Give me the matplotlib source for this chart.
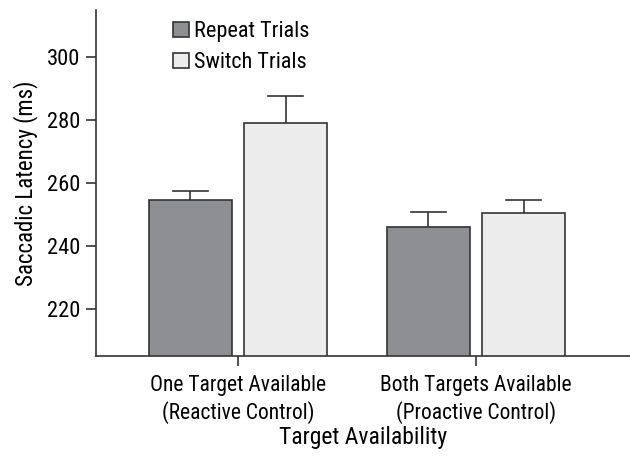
import matplotlib
matplotlib.use("Agg")
import matplotlib.pyplot as plt
import numpy as np
from matplotlib.patches import Patch

plt.rcParams['font.family'] = ['Roboto Condensed', 'Archivo Narrow', 'PT Sans Narrow', 'DejaVu Sans']

categories = ["One Target Available\n(Reactive Control)", "Both Targets Available\n(Proactive Control)"]
series = ["Repeat Trials", "Switch Trials"]
repeat_vals = [254.6, 246.0]
repeat_err = [2.8, 4.8]
switch_vals = [278.9, 250.5]
switch_err = [8.6, 3.9]
yticks = [220, 240, 260, 280, 300]

fig = plt.figure(figsize=(6.3, 4.59), dpi=100)
W, H = 630, 459
ax = fig.add_axes([96 / W, 1 - 355.7 / H, (630 - 96) / W, (355.7 - 10) / H])

x = np.arange(len(categories))
width = 0.349
edge = '#333333'
ax.bar(x - 0.2, repeat_vals, width, bottom=0, color='#8e8f92', edgecolor=edge, linewidth=1.2,
       yerr=[np.zeros(2), repeat_err], capsize=0, error_kw=dict(ecolor=edge, elinewidth=1.2), zorder=2)
ax.bar(x + 0.2, switch_vals, width, bottom=0, color='#ececec', edgecolor=edge, linewidth=1.2,
       yerr=[np.zeros(2), switch_err], capsize=0, error_kw=dict(ecolor=edge, elinewidth=1.2), zorder=2)
cap = 0.073
for xs, v, e in [(x - 0.2, repeat_vals, repeat_err), (x + 0.2, switch_vals, switch_err)]:
    for xi, vi, ei in zip(xs, v, e):
        ax.plot([xi - cap, xi + cap], [vi + ei, vi + ei], color=edge, lw=1.2, zorder=3)

ax.set_ylim(205.1, 314.8)
ax.set_xlim(-0.597, 1.647)
ax.set_yticks(yticks)
ax.set_xticks(x)
ax.set_xticklabels(categories, fontsize=15.5, linespacing=1.25)
ax.tick_params(axis='y', labelsize=16.2, length=7, width=1.2, color=edge, pad=4)
ax.tick_params(axis='x', length=7, width=1.2, color=edge, pad=7)
for s in ['top', 'right']:
    ax.spines[s].set_visible(False)
for s in ['left', 'bottom']:
    ax.spines[s].set_linewidth(1.2)
    ax.spines[s].set_color(edge)

ax.set_ylabel("Saccadic Latency (ms)", fontsize=16.5, labelpad=7)
ax.set_xlabel("Target Availability", fontsize=17, labelpad=2)

handles = [Patch(facecolor='#8e8f92', edgecolor=edge, linewidth=1.2),
           Patch(facecolor='#ececec', edgecolor=edge, linewidth=1.2)]
leg = ax.legend(handles, series, loc='upper left', bbox_to_anchor=(0.128, 0.993), frameon=False,
                fontsize=16, handlelength=0.7, handleheight=0.7, handletextpad=0.25,
                labelspacing=0.45, borderaxespad=0)

fig.savefig("out.png", dpi=100)
